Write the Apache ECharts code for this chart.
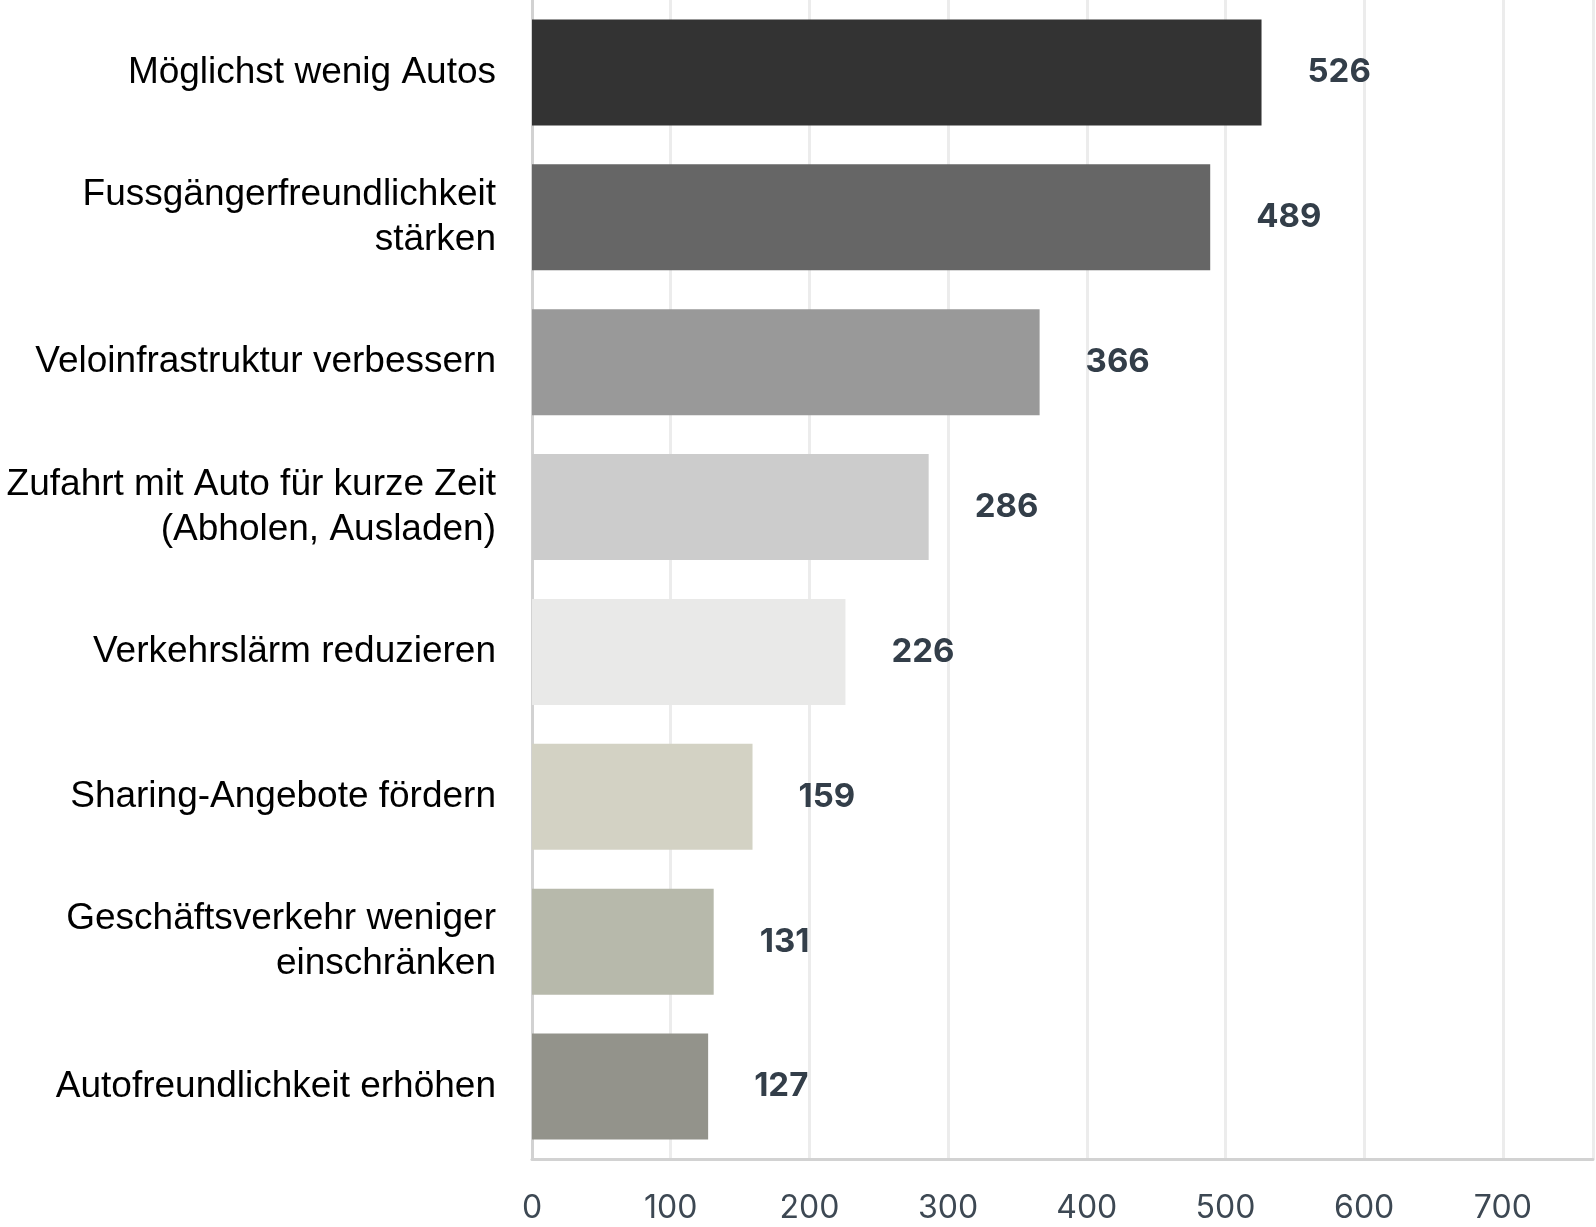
<!DOCTYPE html>
<html>
<head>
<meta charset="utf-8">
<script src="https://cdn.jsdelivr.net/npm/echarts@6/dist/echarts.min.js"></script>
<style>
html,body{margin:0;padding:0;background:#fff;}
#chart{width:1596px;height:1227px;}
</style>
</head>
<body>
<div id="chart"></div>
<script>
const categories = [
  "Möglichst wenig Autos",
  "Fussgängerfreundlichkeit\nstärken",
  "Veloinfrastruktur verbessern",
  "Zufahrt mit Auto für kurze Zeit\n(Abholen, Ausladen)",
  "Verkehrslärm reduzieren",
  "Sharing-Angebote fördern",
  "Geschäftsverkehr weniger\neinschränken",
  "Autofreundlichkeit erhöhen"
];
const values = [526, 489, 366, 286, 226, 159, 131, 127];
const barColors = ["#333333", "#666666", "#999999", "#cccccc", "#e9e9e8", "#d3d2c4", "#b7b9ab", "#93938b"];
const xTicks = [0, 100, 200, 300, 400, 500, 600, 700];

const chart = echarts.init(document.getElementById('chart'), null, {renderer: 'canvas'});
chart.setOption({
  animation: false,
  backgroundColor: '#ffffff',
  grid: {left: 532, right: 0, top: 0, bottom: 68, containLabel: false},
  xAxis: {
    type: 'value',
    min: 0,
    max: 765,
    interval: 100,
    axisLine: {show: true, lineStyle: {color: '#d2d2d2', width: 3}},
    axisTick: {show: false},
    splitLine: {show: true, lineStyle: {color: '#ececec', width: 3}},
    axisLabel: {
      margin: 33,
      fontFamily: 'Inter',
      fontSize: 32,
      color: '#3d4853',
      formatter: function (v) { return xTicks.indexOf(v) >= 0 ? String(v) : ''; }
    }
  },
  yAxis: {
    type: 'category',
    inverse: true,
    data: categories,
    axisLine: {show: true, lineStyle: {color: '#d2d2d2', width: 3}},
    axisTick: {show: false},
    axisLabel: {
      margin: 36,
      fontFamily: 'Liberation Sans, Arial',
      fontSize: 37,
      lineHeight: 45,
      color: '#000000',
      align: 'right'
    }
  },
  series: [{
    type: 'bar',
    data: values.map((v, i) => ({value: v, itemStyle: {color: barColors[i]}})),
    barWidth: 106,
    label: {
      show: true,
      position: 'right',
      distance: 46,
      fontFamily: 'Inter',
      fontWeight: 'bold',
      fontSize: 33,
      color: '#333e49'
    }
  }]
});
</script>
</body>
</html>
